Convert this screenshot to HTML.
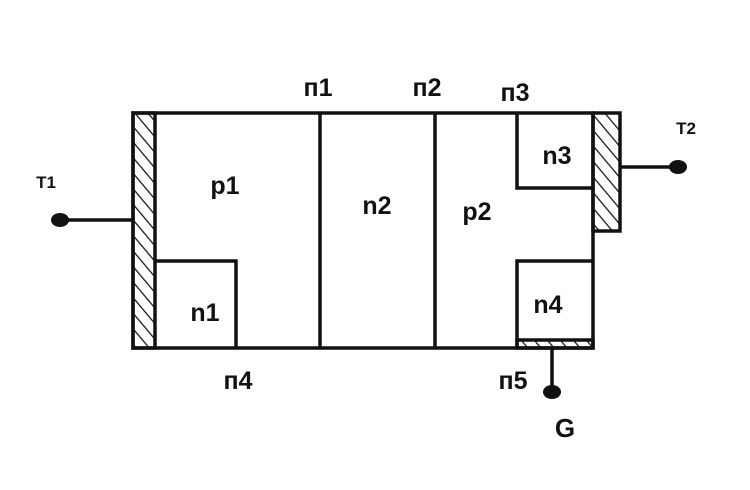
<!DOCTYPE html>
<html><head><style>body{margin:0;background:#fff}</style></head><body>
<svg width="750" height="485" viewBox="0 0 750 485" xmlns="http://www.w3.org/2000/svg" font-family="Liberation Sans, sans-serif" font-weight="bold">
<defs>
<pattern id="h" width="10" height="10" patternUnits="userSpaceOnUse" patternTransform="rotate(-40)">
<line x1="0" y1="0" x2="0" y2="10" stroke="#111" stroke-width="2.5"/>
</pattern>
</defs>
<rect x="0" y="0" width="750" height="485" fill="#fff"/>
<g stroke="#111" stroke-width="3.5" fill="none">
<rect x="133" y="113" width="22" height="235" fill="url(#h)"/>
<rect x="593" y="113" width="27" height="118" fill="url(#h)"/>
<rect x="517" y="340" width="76" height="8" fill="url(#h)"/>
<rect x="133" y="113" width="460" height="235"/>
<line x1="320" y1="113" x2="320" y2="348"/>
<line x1="435" y1="113" x2="435" y2="348"/>
<polyline points="517,113 517,188 593,188"/>
<polyline points="517,348 517,261 593,261"/>
<polyline points="155,261 236,261 236,348"/>
<line x1="60" y1="220" x2="133" y2="220"/>
<line x1="620" y1="167" x2="678" y2="167"/>
<line x1="552" y1="348" x2="552" y2="392"/>
</g>
<g fill="#111">
<ellipse cx="60" cy="220" rx="9" ry="7"/>
<ellipse cx="678" cy="167" rx="9" ry="7"/>
<ellipse cx="552" cy="392" rx="9" ry="7"/>
</g>
<g fill="#111" font-size="25" text-anchor="middle">
<text x="318" y="96">п1</text>
<text x="427" y="96">п2</text>
<text x="515" y="101">п3</text>
<text x="225" y="194">p1</text>
<text x="377" y="214">n2</text>
<text x="477" y="220">p2</text>
<text x="557" y="164">n3</text>
<text x="548" y="313">n4</text>
<text x="205" y="321">n1</text>
<text x="238" y="389">п4</text>
<text x="513" y="389">п5</text>
<text x="565" y="437" font-size="26">G</text>
<text x="686" y="134" font-size="17">T2</text>
<text x="46" y="188" font-size="17">T1</text>
</g>
</svg>
</body></html>
